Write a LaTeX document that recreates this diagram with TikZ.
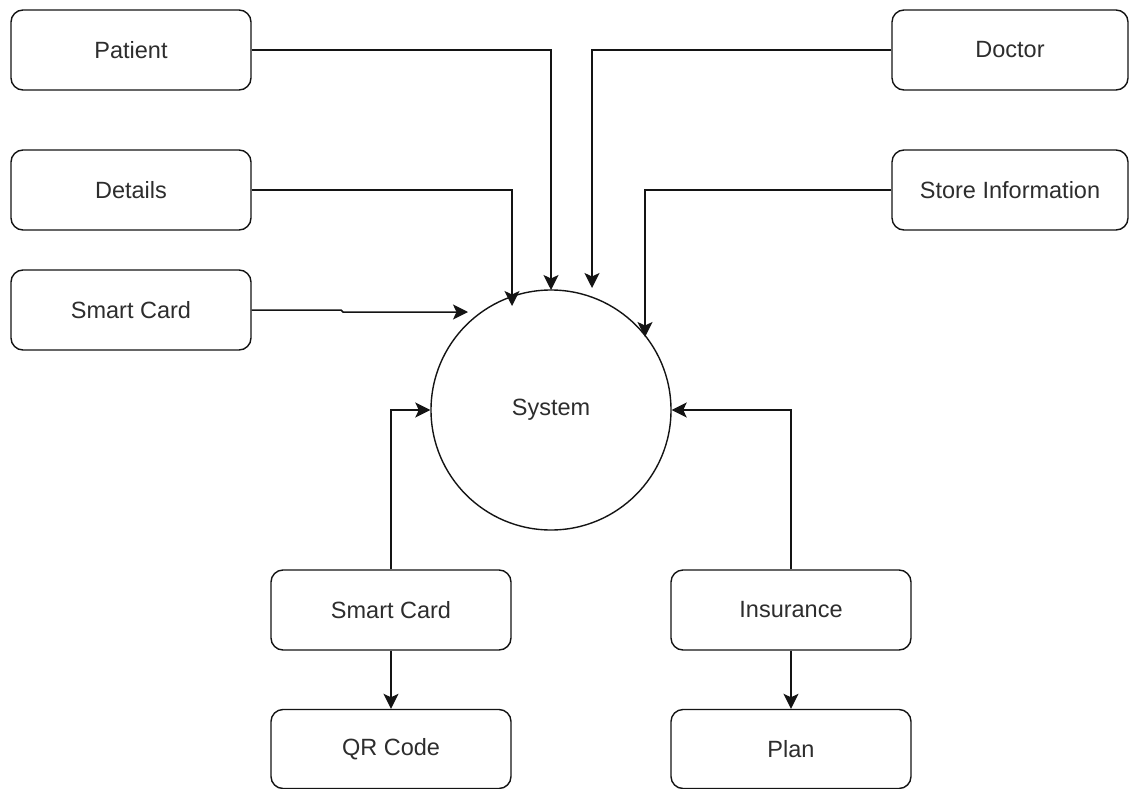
\documentclass[tikz,border=0pt]{standalone}
\usepackage{fontspec}
\setmainfont{Liberation Sans}
\usetikzlibrary{arrows.meta}
\definecolor{txt}{RGB}{45,45,45}
\definecolor{ln}{RGB}{20,20,20}
\begin{document}
\begin{tikzpicture}[x=1pt,y=-1pt,
  box/.style={draw=ln, rounded corners=12pt, line width=1.4pt, minimum width=240pt, minimum height=80pt, inner sep=0pt, font=\fontsize{23.5}{27}\selectfont, text=txt},
  arr/.style={draw=ln, line width=1.5pt, -{Stealth[length=15pt,width=15pt,inset=3.5pt]}},
  ln/.style={draw=ln, line width=1.5pt}]
\fill[white] (0,0) rectangle (1129,789);
\useasboundingbox (0,0) rectangle (1129,789);
% nodes
\node[box] (patient) at (131,50) {Patient};
\node[box, minimum width=236pt] (doctor) at (1010,50) {Doctor};
\node[box] (details) at (131,190) {Details};
\node[box, minimum width=236pt] (store) at (1010,190) {Store Information};
\node[box] (sc1) at (131,310) {Smart Card};
\node[draw=ln, line width=1.4pt, circle, minimum size=240pt, inner sep=0pt, font=\fontsize{23.5}{27}\selectfont, text=txt] (sys) at (551,410) {System};
\node[box] (sc2) at (391,610) {Smart Card};
\node[box, minimum height=79pt] (qr) at (391,749) {QR Code};
\node[box] (ins) at (791,610) {Insurance};
\node[box, minimum height=79pt] (plan) at (791,749) {Plan};
% arrow tips
\coordinate (tP) at (551,290);
\coordinate (tD) at (592,288);
\coordinate (tDe) at (512,306);
\coordinate (tS) at (645,337);
\coordinate (j1) at (341,310);
\coordinate (j2) at (343,312);
\coordinate (tC) at (468,312);
% connectors
\draw[arr] (patient.east) -| (tP);
\draw[arr] (doctor.west) -| (tD);
\draw[arr] (details.east) -| (tDe);
\draw[arr] (store.west) -| (tS);
\draw[arr] (sc1.east) -- (j1) -- (j2) -- (tC);
\draw[arr] (sc2.north) |- (sys.west);
\draw[arr] (ins.north) |- (sys.east);
\draw[arr] (sc2.south) -- (qr.north);
\draw[arr] (ins.south) -- (plan.north);
\end{tikzpicture}
\end{document}
